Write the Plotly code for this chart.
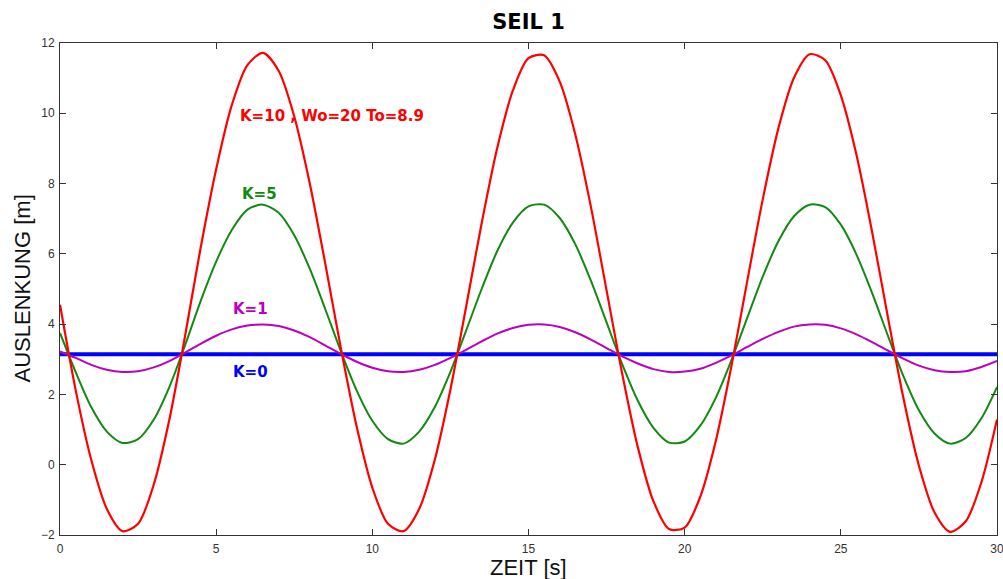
import plotly.graph_objects as go

# Zeitachse in 0.5-s-Schritten (0 ... 30 s)
ZEIT = [0.5 * i for i in range(61)]

# Auslenkung [m] fuer die einzelnen Daempfungswerte K
AUSL_K10 = [4.55, 2.13, 0.14, -1.26, -1.89, -1.68, -0.57, 1.28, 3.64, 6.16,
            8.41, 10.23, 11.37, 11.72, 11.21, 9.91, 7.99, 5.69, 3.28, 1.08,
            -0.65, -1.68, -1.89, -1.26, 0.14, 2.14, 4.48, 6.87, 9.02, 10.65,
            11.57, 11.65, 10.90, 9.39, 7.33, 4.96, 2.59, 0.50, -1.04, -1.83,
            -1.79, -0.91, 0.69, 2.82, 5.21, 7.55, 9.57, 11.01, 11.68, 11.51,
            10.51, 8.82, 6.63, 4.23, 1.91, -0.03, -1.36, -1.91, -1.61, -0.50,
            1.29]

AUSL_K5 = [3.75, 2.64, 1.64, 0.94, 0.62, 0.73, 1.28, 2.21, 3.39, 4.65,
           5.78, 6.68, 7.26, 7.40, 7.17, 6.53, 5.57, 4.41, 3.21, 2.11,
           1.25, 0.73, 0.60, 0.94, 1.64, 2.64, 3.81, 5.00, 6.08, 6.89,
           7.35, 7.40, 7.02, 6.27, 5.23, 4.05, 2.86, 1.82, 1.05, 0.63,
           0.66, 1.11, 1.91, 2.98, 4.17, 5.35, 6.36, 7.07, 7.40, 7.33,
           6.83, 5.98, 4.89, 3.69, 2.53, 1.55, 0.89, 0.60, 0.76, 1.32,
           2.21]

AUSL_K1 = [3.22, 3.04, 2.84, 2.70, 2.64, 2.66, 2.77, 2.95, 3.19, 3.44,
           3.67, 3.85, 3.96, 3.99, 3.95, 3.82, 3.63, 3.39, 3.15, 2.93,
           2.76, 2.66, 2.64, 2.70, 2.84, 3.04, 3.27, 3.51, 3.73, 3.89,
           3.98, 3.99, 3.92, 3.77, 3.56, 3.32, 3.08, 2.88, 2.72, 2.64,
           2.65, 2.73, 2.90, 3.11, 3.35, 3.58, 3.78, 3.93, 3.99, 3.98,
           3.88, 3.71, 3.49, 3.25, 3.02, 2.82, 2.69, 2.64, 2.66, 2.78,
           2.95]

ZEIT_K0 = [0, 30]
AUSL_K0 = [3.14, 3.14]

X_TICKS = [0, 5, 10, 15, 20, 25, 30]
Y_TICKS = [-2, 0, 2, 4, 6, 8, 10, 12]

BLAU = "#0000ff"
MAGENTA = "#bb00c0"
GRUEN = "#118a11"
ROT = "#ff0000"

fig = go.Figure()
fig.add_trace(go.Scatter(x=ZEIT_K0, y=AUSL_K0, mode="lines",
                         line=dict(color=BLAU, width=4)))
fig.add_trace(go.Scatter(x=ZEIT, y=AUSL_K1, mode="lines",
                         line=dict(color=MAGENTA, width=2, shape="spline", smoothing=0.8)))
fig.add_trace(go.Scatter(x=ZEIT, y=AUSL_K5, mode="lines",
                         line=dict(color=GRUEN, width=2, shape="spline", smoothing=0.8)))
fig.add_trace(go.Scatter(x=ZEIT, y=AUSL_K10, mode="lines",
                         line=dict(color=ROT, width=2.2, shape="spline", smoothing=0.8)))

lab_font = dict(family="DejaVu Sans", size=15)
labels = [
    ("K=10 , Wo=20 To=8.9", 5.70, 9.91, ROT),
    ("K=5", 5.77, 7.69, GRUEN),
    ("K=1", 5.48, 4.44, MAGENTA),
    ("K=0", 5.48, 2.65, BLAU),
]
for txt, xv, yv, col in labels:
    fig.add_annotation(x=xv, y=yv, xref="x", yref="y", text="<b>" + txt + "</b>",
                       showarrow=False, xanchor="left", yanchor="middle",
                       font=dict(color=col, **lab_font))

# Achsenbeschriftungen
fig.add_annotation(x=0.5, y=0, xref="paper", yref="paper", text="ZEIT [s]",
                   showarrow=False, xanchor="center", yanchor="middle", yshift=-32,
                   font=dict(family="Liberation Sans", size=22, color="#111"))
fig.add_annotation(x=0, y=0.5, xref="paper", yref="paper", text="AUSLENKUNG [m]",
                   showarrow=False, textangle=-90, xanchor="right", yanchor="middle",
                   xshift=-24, font=dict(family="Liberation Sans", size=22, color="#111"))

axis_common = dict(showline=True, linecolor="#333", linewidth=1, mirror="ticks",
                   ticks="inside", ticklen=6, tickcolor="#333", showgrid=False,
                   zeroline=False, ticklabeloverflow="allow", automargin=False,
                   tickfont=dict(family="Liberation Sans", size=12, color="#333"))

fig.update_layout(
    width=1003, height=579,
    margin=dict(l=60, r=6, t=43, b=44),
    paper_bgcolor="white", plot_bgcolor="white",
    showlegend=False,
    title=dict(text="<b>SEIL 1</b>", x=0.5, xref="paper", xanchor="center",
               y=1 - 22 / 579, yref="container", yanchor="middle",
               font=dict(family="DejaVu Sans", size=21, color="black")),
    xaxis=dict(range=[0, 30], tickvals=X_TICKS, ticklabelstandoff=3, **axis_common),
    yaxis=dict(range=[-2, 12], tickvals=Y_TICKS, ticklabelstandoff=2, **axis_common),
)

fig.write_html("out.html")
